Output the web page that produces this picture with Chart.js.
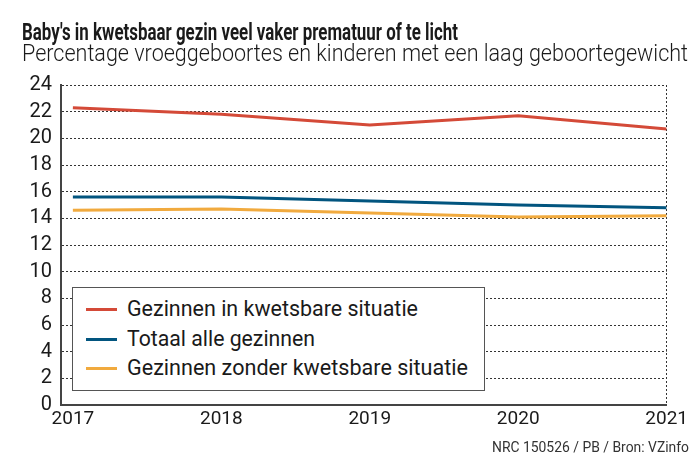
<!DOCTYPE html>
<html>
<head>
<meta charset="utf-8">
<script src="https://cdn.jsdelivr.net/npm/chart.js@4/dist/chart.umd.min.js"></script>
<style>
  body { margin: 0; background: #fff; }
  #wrap { position: relative; width: 691px; height: 457px; overflow: hidden; font-family: Roboto, sans-serif; color: #1a1a1a; }
  #chart { position: absolute; left: 0; top: 0; }
  .txt { position: absolute; white-space: nowrap; transform-origin: 0 50%; line-height: 1; }
  #legend { position: absolute; left: 72px; top: 287px; width: 413px; height: 104px; border: 1px solid #555; background: #fff; box-sizing: border-box; }
  .swatch { position: absolute; left: 13px; width: 31px; height: 3px; }
</style>
</head>
<body>
<div id="wrap">
  <canvas id="chart" width="691" height="457"></canvas>
  <div class="txt" id="title" style="left:22px; top:20px; font-size:24px; font-weight:700;">Baby's in kwetsbaar gezin veel vaker prematuur of te licht</div>
  <div class="txt" id="subtitle" style="left:22px; top:42px; font-size:23px; font-weight:300;">Percentage vroeggeboortes en kinderen met een laag geboortegewicht</div>
  <div id="legend"></div>
  <div class="txt" id="source" style="left:492px; top:440px; font-size:15px; color:#333;">NRC 150526 / PB / Bron: VZinfo</div>
</div>
<script>
// data
const years = [2017, 2018, 2019, 2020, 2021];
const kwetsbaar = [22.3, 21.8, 21.0, 21.7, 20.7];
const totaal = [15.6, 15.6, 15.3, 15.0, 14.8];
const zonder = [14.6, 14.7, 14.4, 14.1, 14.2];
const yTicks = [0, 2, 4, 6, 8, 10, 12, 14, 16, 18, 20, 22, 24];

const series = [
  { label: 'Gezinnen in kwetsbare situatie', values: kwetsbaar, color: '#d44a38' },
  { label: 'Totaal alle gezinnen', values: totaal, color: '#02557f' },
  { label: 'Gezinnen zonder kwetsbare situatie', values: zonder, color: '#f1aa3e' }
];

// squeeze text to the width it has in the picture
function fit(el, target) {
  const w = el.getBoundingClientRect().width;
  el.style.transform = 'scaleX(' + (target / w) + ')';
}

new Chart(document.getElementById('chart'), {
  type: 'line',
  data: {
    datasets: series.map(s => ({
      label: s.label,
      data: years.map((y, i) => ({ x: y, y: s.values[i] })),
      borderColor: s.color,
      backgroundColor: s.color,
      borderWidth: 3,
      pointRadius: 0,
      tension: 0
    }))
  },
  options: {
    responsive: false,
    animation: false,
    layout: { padding: { top: 85, right: 21, left: 0, bottom: 0 } },
    plugins: { legend: { display: false }, tooltip: { enabled: false } },
    scales: {
      x: {
        type: 'linear',
        min: 2016.92,
        max: 2021,
        afterBuildTicks: scale => { scale.ticks = years.map(v => ({ value: v })); },
        afterFit: scale => { scale.height = 52; },
        ticks: {
          callback: v => String(v),
          color: '#1a1a1a',
          font: { family: 'Roboto', size: 19 },
          padding: 3,
          maxRotation: 0,
          autoSkip: false
        },
        grid: {
          drawTicks: false,
          lineWidth: 1,
          color: c => (c.tick && c.tick.value === 2021) ? '#333' : 'rgba(0,0,0,0)'
        },
        border: { display: true, color: '#444', width: 2, dash: [2, 2] }
      },
      y: {
        min: 0,
        max: 24,
        afterBuildTicks: scale => { scale.ticks = yTicks.map(v => ({ value: v })); },
        afterFit: scale => { scale.width = 61; },
        ticks: {
          color: '#1a1a1a',
          font: { family: 'Roboto', size: 20 },
          padding: 9,
          autoSkip: false
        },
        grid: { drawTicks: false, color: '#333', lineWidth: 1 },
        border: { display: true, color: '#444', width: 2, dash: [2, 2] }
      }
    }
  }
});

// legend box
const legend = document.getElementById('legend');
const rowTops = [21, 51, 80];
series.forEach((s, i) => {
  const sw = document.createElement('div');
  sw.className = 'swatch';
  sw.style.top = (rowTops[i] - 1.5) + 'px';
  sw.style.background = s.color;
  legend.appendChild(sw);
  const t = document.createElement('div');
  t.className = 'txt';
  t.textContent = s.label;
  t.style.left = '54px';
  t.style.top = (rowTops[i] - 11) + 'px';
  t.style.fontSize = '22px';
  legend.appendChild(t);
});
const legendTexts = legend.querySelectorAll('.txt');
const legendWidths = [291, 188, 341];
legendTexts.forEach((el, i) => fit(el, legendWidths[i]));

fit(document.getElementById('title'), 436);
fit(document.getElementById('subtitle'), 666);
fit(document.getElementById('source'), 197);
</script>
</body>
</html>
